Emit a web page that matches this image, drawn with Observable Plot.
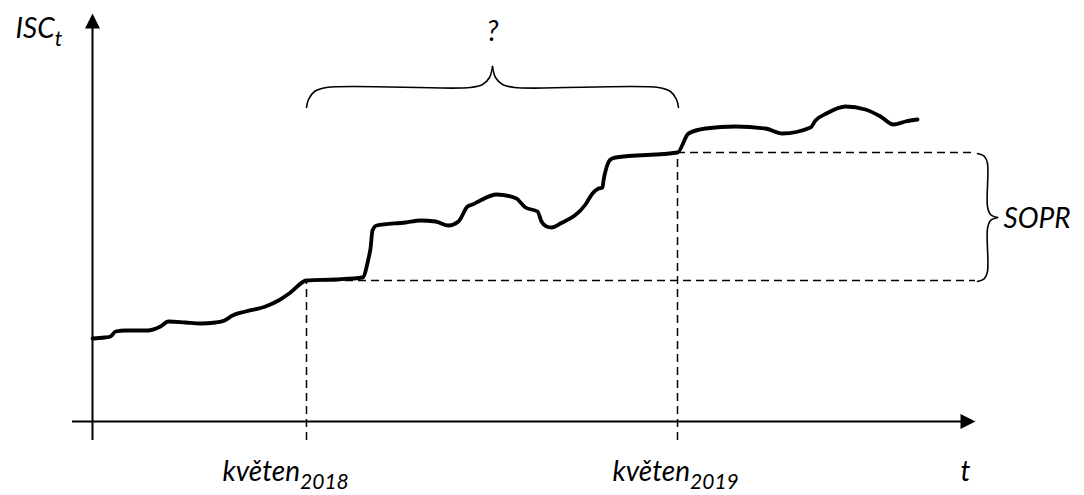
<!DOCTYPE html>
<html>
<head>
<meta charset="utf-8">
<script src="https://cdn.jsdelivr.net/npm/d3@7"></script>
<script src="https://cdn.jsdelivr.net/npm/@observablehq/plot@0.6"></script>
<style>
  html, body { margin: 0; padding: 0; background: #fff; }
  #chart svg { display: block; }
</style>
</head>
<body>
<div id="chart"></div>
<script>
// ISC_t curve (t and ISC in arbitrary units, origin at the axis crossing)
const curveT   = [0,12,18,23,33,55,68,76,93,108,123,132,140,153,173,186,198,214,243,270,276,278,280,284,313,328,343,356,366,375,380,386,404,424,429,433,445,449,454,459,468,493,500,506,510,511,514,518,523,585,596,613,643,673,690,718,723,734,753,773,788,801,813,825];
const curveISC = [83,84,85,90,91,91,95,100,99,98,99,101,106,110,115,121,129,141,142,144,163,173,191,196,199,201,200,196,200,215,217,220,227,223,218,214,210,200,195,194,198,217,228,233,234,241,254,262,264,269,288,293,295,293,288,294,301,308,315,312,305,297,300,302];

// reference moments: květen 2018 and květen 2019
const refT   = [214, 585];
const refISC = [141, 269];

// axis extents
const axisTmin = -20, axisTmax = 883;
const axisYmin = -19, axisYmax = 408;
const dashEnd = 883;

// top brace "?" (two halves)
const braceTopT   = [214,216,222,234,378,390,397,400, 400,403,410,422,566,578,584,586];
const braceTopISC = [314,322,330,334,334,337,344,355, 355,344,337,334,334,330,322,314];
const braceTopZ   = [0,0,0,0,0,0,0,0, 1,1,1,1,1,1,1,1];

// right brace "SOPR"
const braceRT   = [885,892,895,895,898,905, 905,898,895,895,892,885];
const braceRISC = [268,265,258,215,207,204, 204,201,193,150,143,140];
const braceRZ   = [0,0,0,0,0,0, 1,1,1,1,1,1];

// labels
const labelText = ["ISC_t", "?", "SOPR", "květen_2018", "květen_2019", "t"];
const labelT    = [-77, 400, 911, 130, 520, 868];
const labelISC  = [384, 381, 194, -59, -59, -59];
const labelAnchor = ["start", "middle", "start", "start", "start", "start"];

const curve = curveT.map((t, i) => ({t, v: curveISC[i]}));
const braceTop = braceTopT.map((t, i) => ({t, v: braceTopISC[i], z: braceTopZ[i]}));
const braceR = braceRT.map((t, i) => ({t, v: braceRISC[i], z: braceRZ[i]}));
const labels = labelText.map((s, i) => ({s, t: labelT[i], v: labelISC[i], a: labelAnchor[i]}));

const arrowUp = {draw(ctx) { ctx.moveTo(0, 0); ctx.lineTo(7.5, 15); ctx.lineTo(-7.5, 15); ctx.closePath(); }};
const arrowRight = {draw(ctx) { ctx.moveTo(0, 0); ctx.lineTo(-15, -7.5); ctx.lineTo(-15, 7.5); ctx.closePath(); }};

const font = "Lato, 'Open Sans', sans-serif";

const plot = Plot.plot({
  width: 1084,
  height: 495,
  margin: 0,
  x: {domain: [-92, 992], range: [0, 1084], axis: null},
  y: {domain: [-74, 421], range: [495, 0], axis: null},
  marks: [
    // axes
    Plot.ruleY([0], {x1: axisTmin, x2: axisTmax - 10, stroke: "black", strokeWidth: 2}),
    Plot.ruleX([0], {y1: axisYmin, y2: axisYmax - 10, stroke: "black", strokeWidth: 2}),
    Plot.dot([{t: 0, v: axisYmax}], {x: "t", y: "v", symbol: arrowUp, fill: "black", stroke: null}),
    Plot.dot([{t: axisTmax, v: 0}], {x: "t", y: "v", symbol: arrowRight, fill: "black", stroke: null}),
    // dashed reference lines
    Plot.ruleX(refT.map((t, i) => ({t, v: refISC[i]})), {x: "t", y1: axisYmin, y2: "v", stroke: "black", strokeWidth: 1.5, strokeDasharray: "8,5"}),
    Plot.ruleY(refT.map((t, i) => ({t, v: refISC[i]})), {y: "v", x1: "t", x2: dashEnd, stroke: "black", strokeWidth: 1.5, strokeDasharray: "8,5"}),
    // braces
    Plot.line(braceTop, {x: "t", y: "v", z: "z", curve: "catmull-rom", stroke: "black", strokeWidth: 1.6}),
    Plot.line(braceR, {x: "t", y: "v", z: "z", curve: "catmull-rom", stroke: "black", strokeWidth: 1.6}),
    // ISC curve
    Plot.line(curve, {x: "t", y: "v", curve: "monotone-x", stroke: "black", strokeWidth: 3.8, strokeLinejoin: "round", strokeLinecap: "round"}),
    // labels
    Plot.text(labels, {x: "t", y: "v", text: "s", lineAnchor: "bottom", fontSize: 28, fontStyle: "italic", fontFamily: font, fill: "black"})
  ]
});

// subscripts as real tspans
plot.querySelectorAll("text").forEach(el => {
  const s = el.textContent;
  if (s.includes("_")) {
    const [main, sub] = s.split("_");
    el.textContent = "";
    const ns = "http://www.w3.org/2000/svg";
    const a = document.createElementNS(ns, "tspan");
    a.textContent = main;
    const b = document.createElementNS(ns, "tspan");
    b.textContent = sub;
    b.setAttribute("font-size", "21");
    b.setAttribute("dy", "8");
    el.appendChild(a);
    el.appendChild(b);
  }
});
// anchor texts individually
plot.querySelectorAll("g[aria-label='text'] text").forEach((el, i) => {
  el.setAttribute("text-anchor", labelAnchor[i]);
});

document.getElementById("chart").appendChild(plot);
</script>
</body>
</html>
